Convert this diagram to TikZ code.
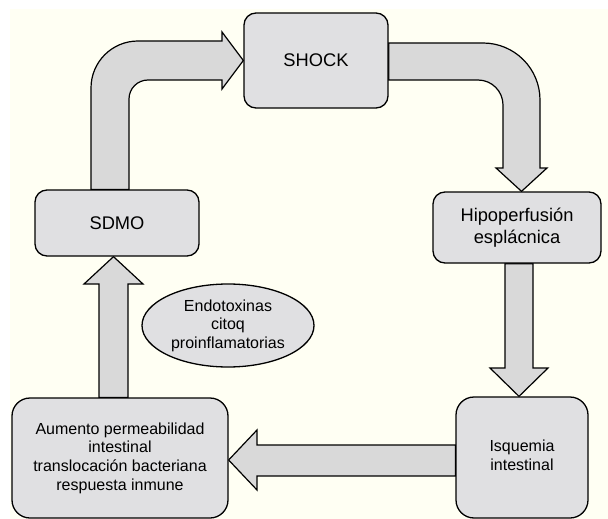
\documentclass[tikz,border=0pt]{standalone}
\usepackage{fontspec}
\setmainfont{Liberation Sans}
\usetikzlibrary{calc,shapes.geometric}
\definecolor{bgcream}{RGB}{255,255,243}
\definecolor{boxgray}{RGB}{224,224,226}
\definecolor{arrowgray}{RGB}{217,217,217}
\pgfdeclarelayer{bgzero}
\pgfdeclarelayer{bgone}
\pgfsetlayers{bgzero,bgone,main}
\begin{document}
\begin{tikzpicture}[x=1pt,y=-1pt,
  box/.style={draw=black, line width=1.3pt, fill=boxgray, rounded corners=12pt, inner sep=0pt, align=center, font=\fontsize{18.3}{22}\selectfont},
  bigbox/.style={box, rounded corners=18pt, font=\fontsize{16}{18.6}\selectfont},
  ovalbox/.style={ellipse, draw=black, line width=1.3pt, fill=boxgray, inner sep=0pt, align=center, font=\fontsize{16}{18.6}\selectfont},
  fatarrow/.style={draw=black, line width=1.2pt, fill=arrowgray, line join=miter}]
\useasboundingbox (0,0) rectangle (608,519);

\node[box, minimum width=144pt, minimum height=95pt] (shock) at (316,60.5) {SHOCK};
\node[box, minimum width=164pt, minimum height=66pt] (sdmo) at (117,223) {SDMO};
\node[box, minimum width=168pt, minimum height=71pt] (hipo) at (517,227.5) {Hipoperfusión\\esplácnica};
\node[bigbox, minimum width=132pt, minimum height=121pt] (isq) at (522,457.5) {\raisebox{-5pt}{\begin{tabular}{@{}c@{}}Isquemia\\intestinal\end{tabular}}};
\node[bigbox, minimum width=216pt, minimum height=120pt] (aum) at (120,458) {Aumento permeabilidad\\intestinal\\translocación bacteriana\\respuesta inmune};
\node[ovalbox, minimum width=172pt, minimum height=83pt] (endo) at (228,325.5) {Endotoxinas\\citoq\\proinflamatorias};

\begin{pgfonlayer}{bgzero}
\fill[white] (0,0) rectangle (608,519);
\fill[bgcream] (10,9) rectangle (608,519);
\end{pgfonlayer}

\begin{pgfonlayer}{bgone}
% SDMO -> SHOCK
\draw[fatarrow] (91,0 |- sdmo.north) -- (91,88) .. controls (91,62) and (112,41) .. (138,41) -- (222,41) -- (222,32) -- (shock.west) -- (222,89) -- (222,80) -- (148,80) .. controls (137.5,80) and (129,88.5) .. (129,99) -- (129,0 |- sdmo.north) -- cycle;
% SHOCK -> Hipoperfusion
\draw[fatarrow] (shock.east |- 0,43) -- (483,43) .. controls (514.5,43) and (540,68.5) .. (540,100) -- (540,168) -- (547,168) -- (521.5,0 |- hipo.north) -- (496,168) -- (503,168) -- (503,105) .. controls (503,91.2) and (491.8,80) .. (478,80) -- (shock.east |- 0,80) -- cycle;
% Hipoperfusion -> Isquemia
\draw[fatarrow] (505,0 |- hipo.south) -- (505,368) -- (490,368) -- (519,0 |- isq.north) -- (548,368) -- (533,368) -- (533,0 |- hipo.south) -- cycle;
% Isquemia -> Aumento
\draw[fatarrow] (isq.west |- 0,445) -- (257,445) -- (257,430) -- (aum.east |- 0,460) -- (257,490) -- (257,476) -- (isq.west |- 0,476) -- cycle;
% Aumento -> SDMO
\draw[fatarrow] (99,0 |- aum.north) -- (99,284) -- (84,284) -- (113.5,0 |- sdmo.south) -- (143,284) -- (128,284) -- (128,0 |- aum.north) -- cycle;
\end{pgfonlayer}
\end{tikzpicture}
\end{document}
